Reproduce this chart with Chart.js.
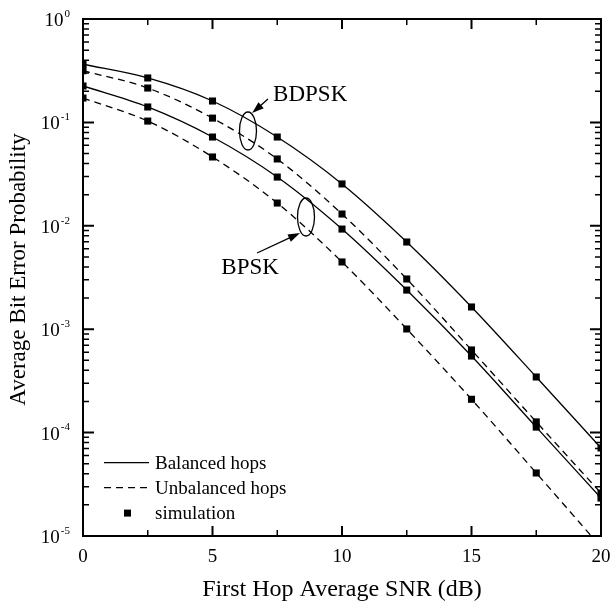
<!DOCTYPE html>
<html>
<head>
<meta charset="utf-8">
<script src="https://cdn.jsdelivr.net/npm/chart.js@4.4.1/dist/chart.umd.min.js"></script>
<style>
  html, body { margin: 0; background: #fff; }
  #wrap { width: 610px; height: 608px; }
</style>
</head>
<body>
<div id="wrap"><canvas id="berChart"></canvas></div>
<script>
// values
const snr = [0, 2.5, 5, 7.5, 10, 12.5, 15, 17.5, 20];
const bdpskBalanced   = [0.365, 0.269, 0.161, 0.0722, 0.0254, 0.00697, 0.00164, 0.000345, 7.1e-5];
const bdpskUnbalanced = [0.316, 0.215, 0.110, 0.0443, 0.0130, 0.00306, 0.00063, 0.000127, 2.6e-5];
const bpskBalanced    = [0.225, 0.141, 0.0722, 0.0296, 0.0093, 0.00239, 0.00055, 0.000113, 2.33e-5];
const bpskUnbalanced  = [0.172, 0.103, 0.0463, 0.0166, 0.00447, 0.001005, 0.00021, 4.07e-5, 7.8e-6];

const xMajor = [0, 5, 10, 15, 20];
const xMinor = [2.5, 7.5, 12.5, 17.5];
const yExponents = [0, -1, -2, -3, -4, -5];
const legendLabels = ['Balanced hops', 'Unbalanced hops', 'simulation'];
const xTitle = 'First Hop Average SNR (dB)';
const yTitle = 'Average Bit Error Probability';

const serif = '"Liberation Serif", "DejaVu Serif", serif';
const dash = [7, 5];

function series(values, dashed) {
    return {
        data: snr.map((x, i) => ({ x: x, y: values[i] })),
        borderColor: '#000',
        backgroundColor: '#000',
        borderWidth: 1.3,
        borderDash: dashed ? dash : [],
        pointStyle: 'rect',
        pointRadius: 5,
        pointHoverRadius: 5,
        pointBorderWidth: 0,
        cubicInterpolationMode: 'monotone',
        fill: false
    };
}

function arrow(ctx, x1, y1, x2, y2) {
    const a = Math.atan2(y2 - y1, x2 - x1);
    ctx.beginPath();
    ctx.moveTo(x1, y1);
    ctx.lineTo(x2 - 8 * Math.cos(a), y2 - 8 * Math.sin(a));
    ctx.stroke();
    ctx.beginPath();
    ctx.moveTo(x2, y2);
    ctx.lineTo(x2 - 12 * Math.cos(a) + 4 * Math.sin(a), y2 - 12 * Math.sin(a) - 4 * Math.cos(a));
    ctx.lineTo(x2 - 12 * Math.cos(a) - 4 * Math.sin(a), y2 - 12 * Math.sin(a) + 4 * Math.cos(a));
    ctx.closePath();
    ctx.fill();
}

const decor = {
    id: 'decor',
    afterDraw(chart) {
        const ctx = chart.ctx;
        const a = chart.chartArea;
        const xs = chart.scales.x, ys = chart.scales.y;
        ctx.save();
        ctx.strokeStyle = '#000';
        ctx.fillStyle = '#000';

        // frame
        ctx.lineWidth = 2;
        ctx.strokeRect(a.left, a.top, a.right - a.left, a.bottom - a.top);

        // x ticks, bottom and top, pointing inward
        function xtick(v, len) {
            const px = xs.getPixelForValue(v);
            ctx.beginPath();
            ctx.moveTo(px, a.bottom); ctx.lineTo(px, a.bottom - len);
            ctx.moveTo(px, a.top); ctx.lineTo(px, a.top + len);
            ctx.stroke();
        }
        ctx.lineWidth = 2;
        xMajor.forEach(v => xtick(v, 10));
        ctx.lineWidth = 1.5;
        xMinor.forEach(v => xtick(v, 6));

        // y ticks, left and right
        function ytick(v, len) {
            const py = ys.getPixelForValue(v);
            ctx.beginPath();
            ctx.moveTo(a.left, py); ctx.lineTo(a.left + len, py);
            ctx.moveTo(a.right, py); ctx.lineTo(a.right - len, py);
            ctx.stroke();
        }
        yExponents.forEach(e => {
            ctx.lineWidth = 2;
            ytick(Math.pow(10, e), 11);
            if (e > -5) {
                ctx.lineWidth = 1.5;
                for (let m = 2; m <= 9; m++) ytick(m * Math.pow(10, e - 1), 6);
            }
        });

        // x tick labels
        ctx.font = '19px ' + serif;
        ctx.textAlign = 'center';
        ctx.textBaseline = 'middle';
        xMajor.forEach(v => ctx.fillText(String(v), xs.getPixelForValue(v), a.bottom + 21));

        // y tick labels 10^e
        yExponents.forEach(e => {
            const py = ys.getPixelForValue(Math.pow(10, e));
            ctx.font = '11px ' + serif;
            ctx.textAlign = 'left';
            const ew = ctx.measureText(String(e)).width;
            const ex = a.left - 13 - ew;
            ctx.fillText(String(e), ex, py - 5);
            ctx.font = '19px ' + serif;
            ctx.textAlign = 'right';
            ctx.fillText('10', ex - 1, py + 2);
        });

        // axis titles
        ctx.textAlign = 'center';
        ctx.font = '24px ' + serif;
        ctx.fillText(xTitle, (a.left + a.right) / 2, a.bottom + 54);
        ctx.save();
        ctx.translate(19, (a.top + a.bottom) / 2 - 8);
        ctx.rotate(-Math.PI / 2);
        ctx.font = '23px ' + serif;
        ctx.fillText(yTitle, 0, 0);
        ctx.restore();

        // legend inside plot
        const lx = a.left + 21, ly = ys.getPixelForValue(1e-4) + 30;
        ctx.lineWidth = 1.3;
        ctx.beginPath(); ctx.moveTo(lx, ly); ctx.lineTo(lx + 45, ly); ctx.stroke();
        ctx.setLineDash(dash);
        ctx.beginPath(); ctx.moveTo(lx, ly + 25); ctx.lineTo(lx + 45, ly + 25); ctx.stroke();
        ctx.setLineDash([]);
        ctx.fillRect(lx + 20, ly + 47, 7, 7);
        ctx.font = '19px ' + serif;
        ctx.textAlign = 'left';
        legendLabels.forEach((t, i) => ctx.fillText(t, lx + 51, ly + i * 25 + 1));

        // annotations: ellipses, arrows, labels
        ctx.lineWidth = 1.3;
        ctx.beginPath();
        ctx.ellipse(xs.getPixelForValue(6.37), ys.getPixelForValue(0.0826), 8.5, 19, 0, 0, 2 * Math.PI);
        ctx.stroke();
        ctx.beginPath();
        ctx.ellipse(xs.getPixelForValue(8.61), ys.getPixelForValue(0.01216), 8.5, 19, 0, 0, 2 * Math.PI);
        ctx.stroke();
        arrow(ctx, xs.getPixelForValue(7.14), ys.getPixelForValue(0.168),
                   xs.getPixelForValue(6.53), ys.getPixelForValue(0.123));
        arrow(ctx, xs.getPixelForValue(6.72), ys.getPixelForValue(0.00546),
                   xs.getPixelForValue(8.38), ys.getPixelForValue(0.00851));
        ctx.font = '23px ' + serif;
        ctx.textAlign = 'left';
        ctx.fillText('BDPSK', xs.getPixelForValue(7.34), ys.getPixelForValue(0.184));
        ctx.textAlign = 'center';
        ctx.fillText('BPSK', xs.getPixelForValue(6.45), ys.getPixelForValue(0.0039));
        ctx.restore();
    }
};

new Chart(document.getElementById('berChart'), {
    type: 'line',
    data: {
        datasets: [
            series(bdpskBalanced, false),
            series(bdpskUnbalanced, true),
            series(bpskBalanced, false),
            series(bpskUnbalanced, true)
        ]
    },
    options: {
        responsive: true,
        maintainAspectRatio: false,
        animation: false,
        layout: { padding: { left: 83, right: 9, top: 19, bottom: 72 } },
        scales: {
            x: { type: 'linear', min: 0, max: 20, display: false },
            y: { type: 'logarithmic', min: 1e-5, max: 1, display: false }
        },
        plugins: {
            legend: { display: false },
            tooltip: { enabled: false }
        }
    },
    plugins: [decor]
});
</script>
</body>
</html>
